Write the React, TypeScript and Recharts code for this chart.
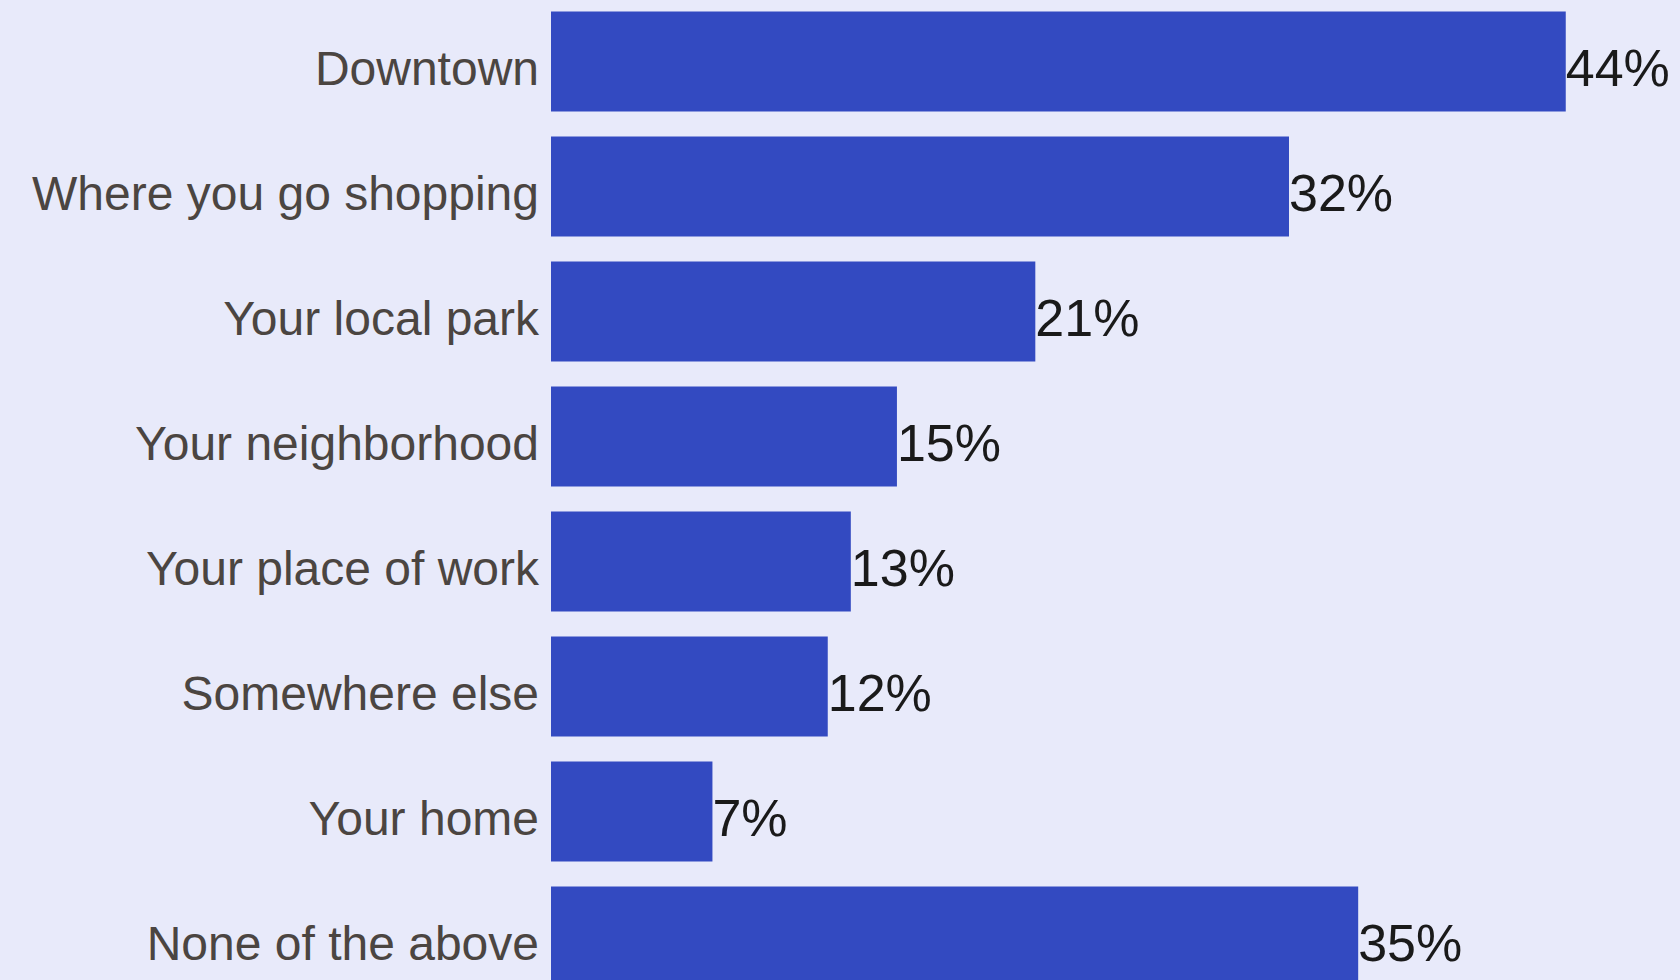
import { Bar, BarChart, LabelList, XAxis, YAxis } from 'recharts'

const places = [
  'Downtown',
  'Where you go shopping',
  'Your local park',
  'Your neighborhood',
  'Your place of work',
  'Somewhere else',
  'Your home',
  'None of the above',
]

const shares = [44, 32, 21, 15, 13, 12, 7, 35]

const chartData = places.map((name, i) => ({ name, share: shares[i] }))

const FONT = '"Liberation Sans", Arial, Helvetica, sans-serif'

function PlaceTick({ x, y, payload }: any) {
  return (
    <text x={x} y={y + 6} dy="0.355em" textAnchor="end" fill="#4b4541" fontSize={48} fontFamily={FONT}>
      {payload.value}
    </text>
  )
}

function ShareLabel({ x, y, width, height, value }: any) {
  return (
    <text x={x + width} y={y + height / 2 + 6} dy="0.355em" textAnchor="start" fill="#1a1a1a" fontSize={52} fontFamily={FONT}>
      {value}%
    </text>
  )
}

function App() {
  return (
    <div style={{ position: 'fixed', left: 0, top: 0, width: 1680, height: 980, overflow: 'hidden', background: '#e8eafa' }}>
      <div style={{ position: 'absolute', left: 0, top: -1.5 }}>
        <BarChart
          width={1680}
          height={1000}
          data={chartData}
          layout="vertical"
          margin={{ top: 0, right: 22, bottom: 0, left: 0 }}
          barCategoryGap="10%"
        >
          <XAxis type="number" domain={[0, 48]} hide />
          <YAxis
            type="category"
            dataKey="name"
            width={551}
            axisLine={false}
            tickLine={false}
            tickSize={0}
            tickMargin={12}
            tick={<PlaceTick />}
            interval={0}
          />
          <Bar dataKey="share" fill="#334ac1" isAnimationActive={false}>
            <LabelList dataKey="share" content={<ShareLabel />} />
          </Bar>
        </BarChart>
      </div>
    </div>
  )
}

export default App
